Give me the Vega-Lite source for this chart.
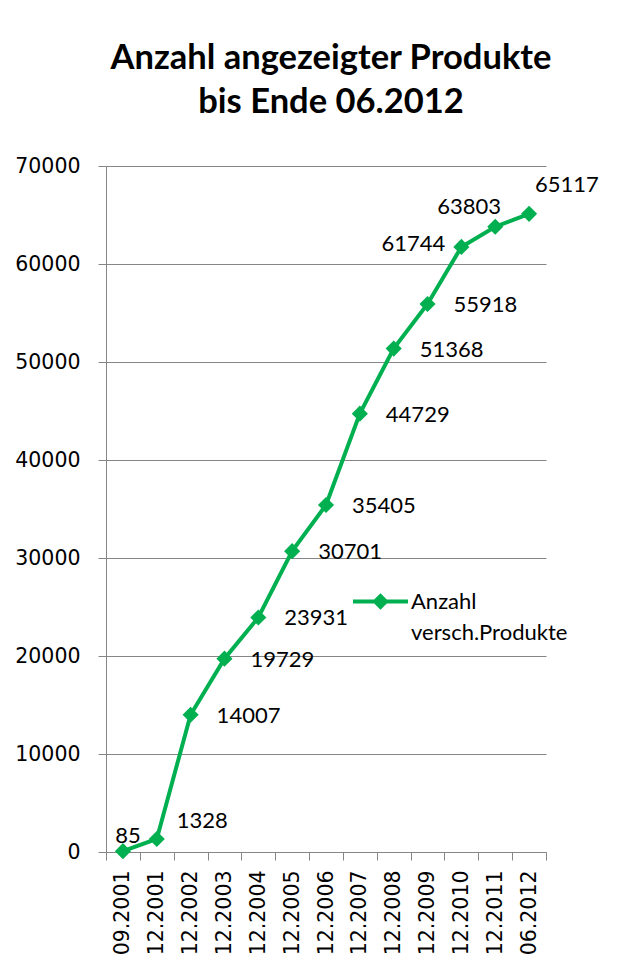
{
  "$schema": "https://vega.github.io/schema/vega-lite/v6.json",
  "autosize": "none",
  "width": 440,
  "height": 686,
  "padding": {"left": 106, "top": 166, "right": 94, "bottom": 124},
  "background": "white",
  "title": {
    "text": ["Anzahl angezeigter Produkte", "bis Ende 06.2012"],
    "font": "Lato",
    "fontSize": 34.5,
    "fontWeight": "bold",
    "lineHeight": 44,
    "color": "black",
    "anchor": "middle",
    "dx": 5,
    "offset": 36
  },
  "data": {
    "values": [
      {"period": "09.2001", "count": 85},
      {"period": "12.2001", "count": 1328},
      {"period": "12.2002", "count": 14007},
      {"period": "12.2003", "count": 19729},
      {"period": "12.2004", "count": 23931},
      {"period": "12.2005", "count": 30701},
      {"period": "12.2006", "count": 35405},
      {"period": "12.2007", "count": 44729},
      {"period": "12.2008", "count": 51368},
      {"period": "12.2009", "count": 55918},
      {"period": "12.2010", "count": 61744},
      {"period": "12.2011", "count": 63803},
      {"period": "06.2012", "count": 65117}
    ]
  },
  "encoding": {
    "x": {
      "field": "period",
      "type": "ordinal",
      "sort": null,
      "scale": {"paddingInner": 0, "paddingOuter": 0},
      "axis": {
        "title": null,
        "labelAngle": 270,
        "labelAlign": "right",
        "labelBaseline": "middle",
        "labelFont": "DejaVu Sans",
        "labelFontSize": 20.5,
        "labelColor": "black",
        "labelPadding": 10,
        "tickBand": "extent",
        "tickSize": 8,
        "tickColor": "#868686",
        "domainColor": "#868686",
        "grid": false
      }
    },
    "y": {
      "field": "count",
      "type": "quantitative",
      "scale": {"domain": [0, 70000], "nice": false},
      "axis": {
        "title": null,
        "values": [0, 10000, 20000, 30000, 40000, 50000, 60000, 70000],
        "format": "d",
        "labelFont": "DejaVu Sans",
        "labelFontSize": 20.5,
        "labelColor": "black",
        "labelPadding": 18,
        "tickSize": 8,
        "tickColor": "#868686",
        "domainColor": "#868686",
        "grid": true,
        "gridColor": "#868686",
        "gridOpacity": 1
      }
    }
  },
  "layer": [
    {
      "mark": {
        "type": "line",
        "strokeWidth": 4,
        "point": {"shape": "diamond", "size": 260, "filled": true, "color": "#00B050", "opacity": 1}
      },
      "encoding": {
        "color": {
          "datum": "Anzahl versch.Produkte",
          "scale": {"range": ["#00B050"]},
          "legend": {
            "title": null,
            "orient": "none",
            "legendX": 245,
            "legendY": 406,
            "padding": 0,
            "symbolType": "M-1,0L1,0M-0.2,0L0,-0.2L0.2,0L0,0.2Z",
            "symbolSize": 3025,
            "symbolStrokeWidth": 4,
            "symbolFillColor": "#00B050",
            "symbolStrokeColor": "#00B050",
            "labelFont": "Lato",
            "labelFontSize": 22,
            "labelColor": "black",
            "labelOffset": 1,
            "labelLimit": 300,
            "labelBaseline": "middle",
            "labelExpr": "['Anzahl', 'versch.Produkte']",
            "encode": {
              "symbols": {"update": {"fill": {"value": "#00B050"}, "stroke": {"value": "#00B050"}, "strokeWidth": {"value": 4}, "opacity": {"value": 1}}},
              "labels": {"update": {"lineHeight": {"value": 31}}}
            }
          }
        }
      }
    },
    {
      "transform": [{"filter": {"field": "period", "oneOf": ["12.2002", "12.2003", "12.2004", "12.2005", "12.2006", "12.2007", "12.2008", "12.2009"]}}],
      "mark": {"type": "text", "align": "left", "baseline": "middle", "dx": 26, "dy": 1, "font": "Lato", "fontSize": 22, "color": "black"},
      "encoding": {"text": {"field": "count", "type": "quantitative", "format": "d"}}
    },
    {
      "transform": [{"filter": {"field": "period", "equal": "09.2001"}}],
      "mark": {"type": "text", "align": "center", "baseline": "middle", "dx": 5, "dy": -15, "font": "Lato", "fontSize": 22, "color": "black"},
      "encoding": {"text": {"field": "count", "type": "quantitative", "format": "d"}}
    },
    {
      "transform": [{"filter": {"field": "period", "equal": "12.2001"}}],
      "mark": {"type": "text", "align": "left", "baseline": "middle", "dx": 20, "dy": -18, "font": "Lato", "fontSize": 22, "color": "black"},
      "encoding": {"text": {"field": "count", "type": "quantitative", "format": "d"}}
    },
    {
      "transform": [{"filter": {"field": "period", "equal": "12.2010"}}],
      "mark": {"type": "text", "align": "right", "baseline": "middle", "dx": -16, "dy": -3, "font": "Lato", "fontSize": 22, "color": "black"},
      "encoding": {"text": {"field": "count", "type": "quantitative", "format": "d"}}
    },
    {
      "transform": [{"filter": {"field": "period", "equal": "12.2011"}}],
      "mark": {"type": "text", "align": "center", "baseline": "middle", "dx": -26, "dy": -20, "font": "Lato", "fontSize": 22, "color": "black"},
      "encoding": {"text": {"field": "count", "type": "quantitative", "format": "d"}}
    },
    {
      "transform": [{"filter": {"field": "period", "equal": "06.2012"}}],
      "mark": {"type": "text", "align": "left", "baseline": "middle", "dx": 6, "dy": -29, "font": "Lato", "fontSize": 22, "color": "black"},
      "encoding": {"text": {"field": "count", "type": "quantitative", "format": "d"}}
    }
  ],
  "config": {
    "view": {"stroke": null}
  }
}
